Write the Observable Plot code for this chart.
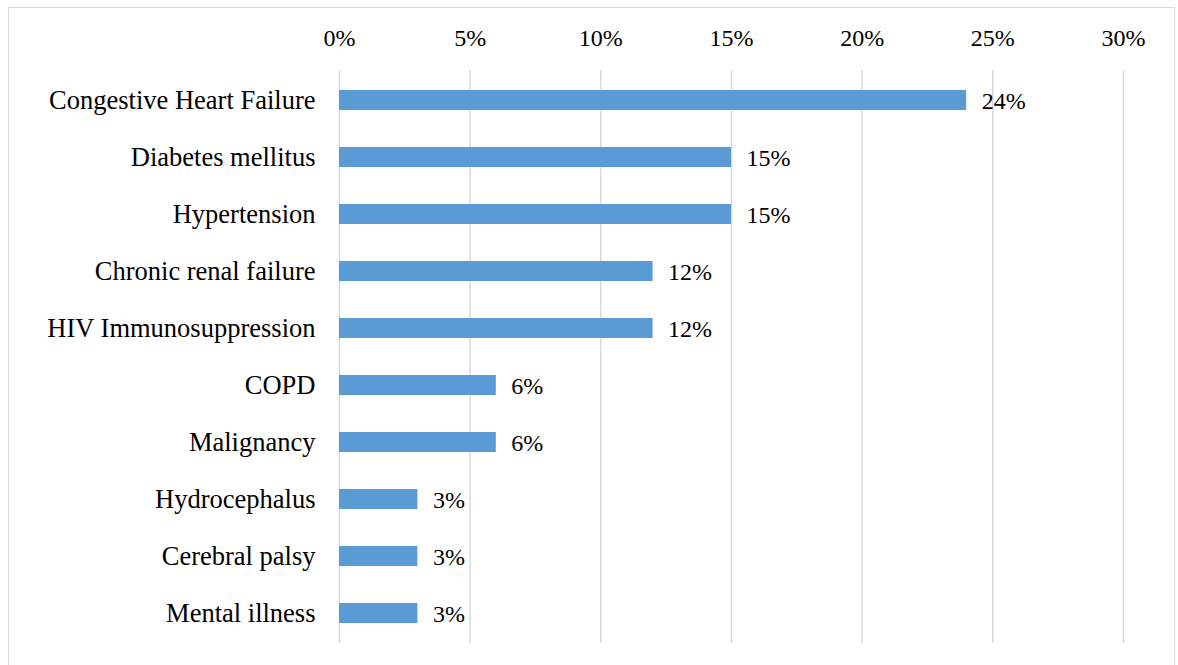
<!DOCTYPE html>
<html>
<head>
<meta charset="utf-8">
<script src="https://cdn.jsdelivr.net/npm/d3@7"></script>
<script src="https://cdn.jsdelivr.net/npm/@observablehq/plot@0.6"></script>
<style>
  html, body { margin: 0; padding: 0; background: #fff; width: 1178px; height: 665px; overflow: hidden; }
  #frame { position: absolute; left: 8px; top: 7px; width: 1167px; height: 700px; border: 1px solid #d9d9d9; box-sizing: border-box; }
  #chart { position: absolute; left: 0; top: 0; }
  #chart svg, #chart svg text { font-family: "Liberation Serif", "Times New Roman", serif; }
</style>
</head>
<body>
<div id="frame"></div>
<div id="chart"></div>
<script>
const categories = [
  "Congestive Heart Failure",
  "Diabetes mellitus",
  "Hypertension",
  "Chronic renal failure",
  "HIV Immunosuppression",
  "COPD",
  "Malignancy",
  "Hydrocephalus",
  "Cerebral palsy",
  "Mental illness"
];
const values = [24, 15, 15, 12, 12, 6, 6, 3, 3, 3];
const xTicks = [0, 5, 10, 15, 20, 25, 30];

const data = categories.map((c, i) => ({category: c, value: values[i]}));
const font = "Liberation Serif";

const chart = Plot.plot({
  width: 1178,
  height: 665,
  marginLeft: 339,
  marginRight: 55,
  marginTop: 70,
  marginBottom: 22,
  style: {fontFamily: font, fontSize: "24px", color: "#000", background: "transparent"},
  x: {domain: [0, 30], ticks: xTicks},
  y: {domain: categories, paddingInner: 0.65, paddingOuter: 0.325},
  marks: [
    Plot.gridX(xTicks, {stroke: "#d9d9d9", strokeOpacity: 1, strokeWidth: 1.5}),
    Plot.axisX(xTicks, {anchor: "top", tickSize: 0, tickPadding: 25, tickFormat: d => d + "%", fontSize: 24, fontFamily: font, label: null}),
    Plot.axisY({tickSize: 0, tickPadding: 24, fontSize: 26.5, fontFamily: font, label: null}),
    Plot.barX(data, {x: "value", y: "category", fill: "#5b9bd5"}),
    Plot.text(data, {x: "value", y: "category", text: d => d.value + "%", textAnchor: "start", dx: 15, dy: 1, fontSize: 24, fontFamily: font, fill: "#000"})
  ]
});
document.getElementById("chart").appendChild(chart);
</script>
</body>
</html>
